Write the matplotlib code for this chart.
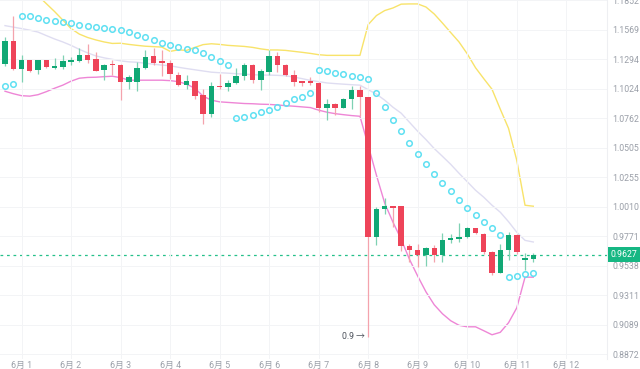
import matplotlib
matplotlib.use("Agg")
import matplotlib.pyplot as plt
import matplotlib.transforms as mtransforms
import numpy as np

plt.rcParams["font.family"] = ["Roboto", "Noto Sans CJK SC", "DejaVu Sans"]

# 4h candles, index 0 = 5/31 16:00
opens = [1.1249, 1.1463, 1.1209, 1.1285, 1.1194, 1.1285, 1.1218, 1.1224, 1.1273, 1.1279,
         1.1338, 1.1300, 1.1194, 1.1255, 1.1239, 1.1088, 1.1088, 1.1214, 1.1322, 1.1276,
         1.1260, 1.1149, 1.1058, 1.1094, 1.0968, 1.0804, 1.1049, 1.1042, 1.1082, 1.1143,
         1.1246, 1.1103, 1.1179, 1.1322, 1.1246, 1.1149, 1.1094, 1.1094, 1.1073, 1.0854,
         1.0887, 1.0854, 1.0929, 1.1012, 1.0947, 0.9765, 0.9990, 1.0015, 1.0015, 0.9694,
         0.9666, 0.9626, 0.9679, 0.9626, 0.9745, 0.9753, 0.9765, 0.9838, 0.9793, 0.9647,
         0.9483, 0.9661, 0.9785, 0.9587, 0.9595]
highs = [1.1500, 1.1706, 1.1331, 1.1290, 1.1291, 1.1288, 1.1310, 1.1331, 1.1315, 1.1399,
         1.1439, 1.1362, 1.1255, 1.1285, 1.1255, 1.1149, 1.1270, 1.1377, 1.1399, 1.1384,
         1.1285, 1.1179, 1.1149, 1.1096, 1.1019, 1.1088, 1.1158, 1.1103, 1.1218, 1.1260,
         1.1250, 1.1209, 1.1384, 1.1362, 1.1250, 1.1194, 1.1096, 1.1134, 1.1088, 1.0929,
         1.0899, 1.0938, 1.1049, 1.1049, 1.0950, 1.0009, 1.0079, 1.0017, 1.0017, 0.9713,
         0.9708, 0.9686, 0.9700, 0.9798, 0.9793, 0.9879, 0.9847, 0.9840, 0.9795, 0.9655,
         0.9713, 0.9806, 0.9793, 0.9639, 0.9639]
lows = [1.1233, 1.1200, 1.1088, 1.1179, 1.1158, 1.1218, 1.1209, 1.1209, 1.1239, 1.1273,
        1.1260, 1.1185, 1.1109, 1.1149, 1.0923, 1.1019, 1.1006, 1.1209, 1.1239, 1.1140,
        1.1118, 1.1049, 1.1019, 1.0929, 1.0709, 1.0774, 1.1019, 1.1003, 1.1067, 1.1103,
        1.1073, 1.1012, 1.1149, 1.1179, 1.1140, 1.1049, 1.1052, 1.1058, 1.0819, 1.0744,
        1.0790, 1.0849, 1.0840, 1.0780, 0.9000, 0.9700, 0.9955, 0.9847, 0.9655, 0.9568,
        0.9529, 0.9534, 0.9568, 0.9568, 0.9718, 0.9726, 0.9761, 0.9787, 0.9634, 0.9466,
        0.9479, 0.9582, 0.9634, 0.9509, 0.9568]
closes = [1.1463, 1.1209, 1.1285, 1.1185, 1.1285, 1.1224, 1.1228, 1.1279, 1.1285, 1.1338,
          1.1285, 1.1188, 1.1239, 1.1239, 1.1088, 1.1128, 1.1214, 1.1315, 1.1260, 1.1264,
          1.1158, 1.1058, 1.1094, 1.0959, 1.0804, 1.1049, 1.1037, 1.1082, 1.1143, 1.1246,
          1.1103, 1.1185, 1.1322, 1.1239, 1.1149, 1.1088, 1.1082, 1.1073, 1.0849, 1.0887,
          1.0854, 1.0929, 1.1012, 1.0947, 0.9765, 0.9990, 1.0015, 1.0004, 0.9694, 0.9666,
          0.9626, 0.9679, 0.9626, 0.9745, 0.9753, 0.9765, 0.9838, 0.9798, 0.9647, 0.9483,
          0.9661, 0.9785, 0.9647, 0.9595, 0.9627]

bb_upper = [1.2223, 1.2144, 1.2065, 1.1986, 1.1898, 1.1821, 1.1745, 1.1663, 1.1582, 1.1530,
            1.1498, 1.1475, 1.1456, 1.1442, 1.1444, 1.1433, 1.1424, 1.1416, 1.1412, 1.1408,
            1.1368, 1.1382, 1.1377, 1.1405, 1.1431, 1.1439, 1.1433, 1.1424, 1.1419, 1.1414,
            1.1405, 1.1391, 1.1381, 1.1381, 1.1377, 1.1368, 1.1359, 1.1349, 1.1337, 1.1331,
            1.1331, 1.1331, 1.1331, 1.1331, 1.1620, 1.1706, 1.1754, 1.1779, 1.1816, 1.1818,
            1.1818, 1.1788, 1.1721, 1.1634, 1.1544, 1.1456, 1.1345, 1.1217, 1.1117, 1.1021,
            1.0843, 1.0674, 1.0398, 1.0023, 1.0015]
bb_mid = [1.1610, 1.1596, 1.1582, 1.1567, 1.1549, 1.1516, 1.1484, 1.1456, 1.1424, 1.1387,
          1.1354, 1.1326, 1.1308, 1.1294, 1.1280, 1.1271, 1.1267, 1.1258, 1.1249, 1.1241,
          1.1235, 1.1221, 1.1209, 1.1198, 1.1187, 1.1176, 1.1171, 1.1167, 1.1162, 1.1158,
          1.1153, 1.1150, 1.1149, 1.1147, 1.1143, 1.1131, 1.1117, 1.1101, 1.1090, 1.1078,
          1.1072, 1.1067, 1.1062, 1.1058, 1.1017, 1.0977, 1.0923, 1.0860, 1.0807, 1.0727,
          1.0648, 1.0576, 1.0499, 1.0432, 1.0364, 1.0289, 1.0218, 1.0147, 1.0089, 1.0023,
          0.9966, 0.9889, 0.9804, 0.9739, 0.9726]
bb_lower = [1.1003, 1.0981, 1.0963, 1.0959, 1.0972, 1.0999, 1.1030, 1.1058, 1.1094, 1.1121,
            1.1128, 1.1130, 1.1135, 1.1139, 1.1126, 1.1103, 1.1103, 1.1103, 1.1103, 1.1103,
            1.1099, 1.1090, 1.1067, 1.1030, 1.0959, 1.0923, 1.0908, 1.0903, 1.0898, 1.0893,
            1.0891, 1.0887, 1.0885, 1.0880, 1.0874, 1.0869, 1.0863, 1.0857, 1.0834, 1.0816,
            1.0803, 1.0794, 1.0786, 1.0780, 1.0525, 1.0272, 1.0040, 0.9885, 0.9747, 0.9589,
            0.9458, 0.9337, 0.9239, 0.9171, 0.9119, 0.9085, 0.9074, 0.9074, 0.9045, 0.9015,
            0.9033, 0.9104, 0.9216, 0.9450, 0.9450]
sar = [1.1049, 1.1064, 1.1706, 1.1697, 1.1684, 1.1668, 1.1658, 1.1642, 1.1632, 1.1620,
       1.1610, 1.1601, 1.1588, 1.1579, 1.1569, 1.1547, 1.1523, 1.1500, 1.1476, 1.1448,
       1.1430, 1.1408, 1.1393, 1.1377, 1.1354, 1.1315, 1.1279, 1.1246, 1.0768, 1.0774,
       1.0795, 1.0818, 1.0834, 1.0863, 1.0899, 1.0929, 1.0952, 1.0983, 1.1200, 1.1188,
       1.1173, 1.1158, 1.1143, 1.1128, 1.1110, 1.0983, 1.0863, 1.0751, 1.0648, 1.0545,
       1.0454, 1.0364, 1.0286, 1.0208, 1.0139, 1.0070, 1.0004, 0.9942, 0.9887, 0.9836,
       0.9782, 0.9453, 0.9463, 0.9471, 0.9479]

day_positions = [2, 8, 14, 20, 26, 32, 38, 44, 50, 56, 62, 68]
day_labels = ["6月 1", "6月 2", "6月 3", "6月 4", "6月 5", "6月 6",
              "6月 7", "6月 8", "6月 9", "6月 10", "6月 11", "6月 12"]
price_ticks = [1.1852, 1.1569, 1.1294, 1.1024, 1.0762, 1.0505, 1.0255,
               1.0010, 0.9771, 0.9538, 0.9311, 0.9089, 0.8872]
last_price = 0.9627
low_label = "0.9"
low_index = 44

UP = "#11a875"
DOWN = "#ee4459"
UP_WICK = "#7fd1b3"
DOWN_WICK = "#f4a3ad"

fig = plt.figure(figsize=(6.4, 3.69), dpi=100)
ax = fig.add_axes([0.0, 10 / 369, 607 / 640, 359 / 369])
ax.set_yscale("log")

x = np.arange(len(opens))
o = np.array(opens)
h = np.array(highs)
l = np.array(lows)
c = np.array(closes)
up = c >= o

ax.vlines(x[up], l[up], h[up], color=UP_WICK, lw=0.9, zorder=2)
ax.vlines(x[~up], l[~up], h[~up], color=DOWN_WICK, lw=0.9, zorder=2)
body_low = np.minimum(o, c)
body_h = np.maximum(np.abs(c - o), 0.0011)
ax.bar(x, body_h, bottom=body_low, width=0.66,
       color=np.where(up, UP, DOWN), linewidth=0, zorder=3)

ax.plot(x, bb_upper, color="#f8e36a", lw=1.0, zorder=1)
ax.plot(x, bb_mid, color="#dfddf1", lw=1.0, zorder=1)
ax.plot(x, bb_lower, color="#ee86d6", lw=1.0, zorder=1)
ax.plot(x, sar, ls="none", marker="o", ms=4.0, mfc="none",
        mec="#5fe0f2", mew=1.1, zorder=4)

ax.axhline(last_price, color="#25c08a", lw=0.9, ls=(0, (2.2, 3)), zorder=1)

ax.text(low_index - 0.35, float(lows[low_index]), f"{low_label} →",
        ha="right", va="center", fontsize=6.3, color="#4d525c")

# axes
ax.set_xlim(-0.606, 72.93)
ax.set_ylim(0.8838, 1.1856)
ax.set_xticks(day_positions)
ax.set_xticklabels(day_labels)
ax.set_yticks(price_ticks)
ax.set_yticklabels([f"{t:.4f}" for t in price_ticks])
ax.yaxis.set_minor_locator(matplotlib.ticker.NullLocator())
ax.yaxis.tick_right()
ax.tick_params(axis="y", length=0, pad=4, labelsize=6.3, labelcolor="#9a9fa8")
ax.tick_params(axis="x", length=0, pad=1.2, labelsize=6.4, labelcolor="#9a9fa8")
ax.grid(True, color="#f3f4f6", lw=0.7, zorder=0)
for side in ["left", "top", "bottom"]:
    ax.spines[side].set_visible(False)
ax.spines["right"].set_color("#eeeff2")
ax.spines["right"].set_linewidth(0.8)

trans = mtransforms.blended_transform_factory(ax.transAxes, ax.transData)
ax.annotate(f"{last_price:.4f}", xy=(1.0, last_price), xycoords=trans,
            xytext=(2.3, 0), textcoords="offset points", ha="left", va="center",
            fontsize=6.3, color="white", annotation_clip=False,
            bbox=dict(boxstyle="square,pad=0.3", fc="#16b783", ec="none"))

fig.savefig("out.png", dpi=100)
